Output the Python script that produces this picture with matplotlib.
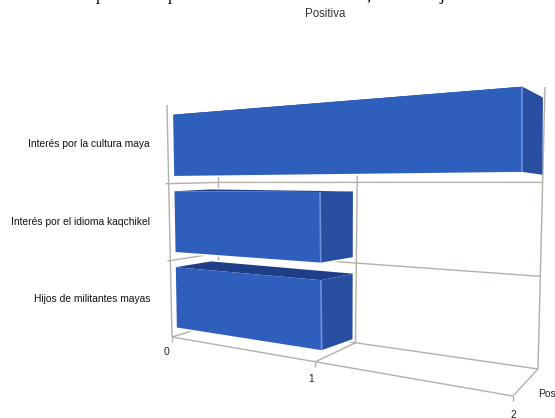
import numpy as np
import matplotlib
matplotlib.use("Agg")
import matplotlib.pyplot as plt
from matplotlib.patches import Polygon

plt.rcParams['font.family'] = ['Liberation Sans', 'DejaVu Sans']

categorias = ["Hijos de militantes mayas", "Interés por el idioma kaqchikel", "Interés por la cultura maya"]
valores = [1, 1, 2]
ticks_valor = [0, 1, 2]
serie = "Positiva"

VMAX = ticks_valor[-1]
NIVELES = len(categorias)


def plano(esquinas):
    # perspectiva (valor, nivel) -> pixel, a partir de las 4 esquinas del plano
    origen = [(0, 0), (VMAX, 0), (VMAX, NIVELES), (0, NIVELES)]
    A, b = [], []
    for (u, v), (x, y) in zip(origen, esquinas):
        A.append([u, v, 1, 0, 0, 0, -u * x, -v * x])
        A.append([0, 0, 0, u, v, 1, -u * y, -v * y])
        b += [x, y]
    h = np.append(np.linalg.solve(np.array(A, float), np.array(b, float)), 1).reshape(3, 3)

    def proyectar(valor, nivel):
        p = h @ np.array([valor, nivel, 1.0])
        return p[0] / p[2], p[1] / p[2]
    return proyectar


# planos de profundidad: pared delantera, cara y fondo de las barras, pared trasera
pared_frente = plano([(172, 337), (513, 396), (519, 75), (167, 105)])
pared_fondo = plano([(218, 323), (538, 369), (545, 87), (218, 111)])
barra_frente = plano([(177, 335), (522, 392), (522, 76), (173, 107)])
barra_fondo = plano([(211, 326), (541, 376), (543, 88), (211, 110)])

fig = plt.figure(figsize=(5.55, 4.18), dpi=100)
ax = fig.add_axes([0, 0, 1, 1])
ax.set_xlim(0, 555)
ax.set_ylim(418, 0)
ax.axis("off")

GRIS = "#b3afa9"


def linea(a, b, color=GRIS, lw=1.0, z=1):
    ax.plot([a[0], b[0]], [a[1], b[1]], color=color, lw=lw, zorder=z, solid_capstyle="butt")


# rejilla: suelo, verticales y divisiones de categoria
linea(pared_frente(0, 0), pared_frente(VMAX, 0))
linea(pared_fondo(0, 0), pared_fondo(VMAX, 0))
for t in ticks_valor:
    linea(pared_frente(t, 0), pared_fondo(t, 0))
    # la vertical del extremo queda por encima del halo blanco de las barras
    linea(pared_fondo(t, 0), pared_fondo(t, NIVELES), z=2.5 if t == VMAX else 1)
    x, y = pared_frente(t, 0)
    linea((x, y), (x, y + 5))
linea(pared_frente(0, 0), pared_frente(0, NIVELES))
for n in range(1, NIVELES):
    x, y = pared_frente(0, n)
    linea((x - 3, y), pared_fondo(0, n))
    linea(pared_fondo(0, n), pared_fondo(VMAX, n))

# barras: lateral, tapa y cara frontal
z = 3
for i, valor in enumerate(valores):
    n0, n1 = i + 0.1, i + 0.9
    frente = [barra_frente(0, n0), barra_frente(valor, n0), barra_frente(valor, n1), barra_frente(0, n1)]
    lateral = [barra_frente(valor, n0), barra_fondo(valor, n0), barra_fondo(valor, n1), barra_frente(valor, n1)]
    tapa = [barra_frente(0, n1), barra_frente(valor, n1), barra_fondo(valor, n1), barra_fondo(0, n1)]
    for cara in (frente, lateral, tapa):
        ax.add_patch(Polygon(cara, closed=True, fc="white", ec="white", lw=2.5, zorder=2))
    ax.add_patch(Polygon(tapa, closed=True, fc="#1f3e88", ec="none", zorder=z))
    ax.add_patch(Polygon(lateral, closed=True, fc="#284fa2", ec="none", zorder=z))
    ax.add_patch(Polygon(frente, closed=True, fc="#2e5fbd", ec="none", zorder=z))
    linea(barra_frente(valor, n0), barra_frente(valor, n1), color="#6f90dc", lw=1.2, z=z + 1)

# textos
ax.text(325, 14, serie, fontsize=8.3, color="#333333", ha="center", va="center")
for i, c in enumerate(categorias):
    ax.text(150, [299, 222, 144][i], c, fontsize=7.4, color="#111111", ha="right", va="center")
for t, (x, y) in zip(ticks_valor, [(167, 352), (311, 379), (513, 415)]):
    ax.text(x, y, str(t), fontsize=7.4, color="#222222", ha="center", va="center")
ax.text(538, 394, "Pos", fontsize=7.4, color="#222222", ha="left", va="center")

# renglon superior cortado por el borde
for x, letra in [(100, "p"), (172, "p"), (368, ","), (442, "j")]:
    ax.text(x, 0.5, letra, fontsize=12, family="Liberation Serif", color="black", ha="center", va="baseline")

fig.savefig("out.png", dpi=100)
